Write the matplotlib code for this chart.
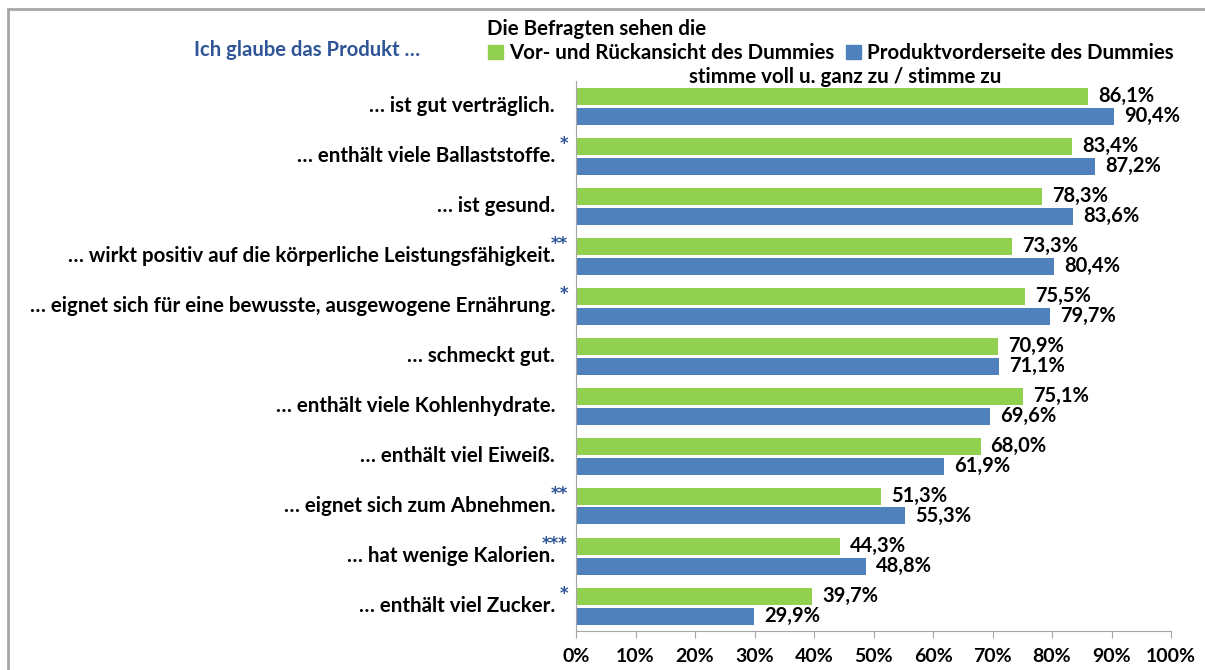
import matplotlib.pyplot as plt
from matplotlib.patches import Rectangle, Patch
from matplotlib.transforms import offset_copy

# data
categories = [
    "… ist gut verträglich.",
    "… enthält viele Ballaststoffe.",
    "… ist gesund.",
    "… wirkt positiv auf die körperliche Leistungsfähigkeit.",
    "… eignet sich für eine bewusste, ausgewogene Ernährung.",
    "… schmeckt gut.",
    "… enthält viele Kohlenhydrate.",
    "… enthält viel Eiweiß.",
    "… eignet sich zum Abnehmen.",
    "… hat wenige Kalorien.",
    "… enthält viel Zucker.",
]
stars = ["", "*", "", "**", "*", "", "", "", "**", "***", "*"]
vor_rueck = [86.1, 83.4, 78.3, 73.3, 75.5, 70.9, 75.1, 68.0, 51.3, 44.3, 39.7]
vorderseite = [90.4, 87.2, 83.6, 80.4, 79.7, 71.1, 69.6, 61.9, 55.3, 48.8, 29.9]
series_names = ["Vor- und Rückansicht des Dummies", "Produktvorderseite des Dummies"]
xticks = [0, 10, 20, 30, 40, 50, 60, 70, 80, 90, 100]

GREEN = "#92D050"
BLUE = "#4F81BD"
DARKBLUE = "#2F5597"
FONT = "Lato"
FS = 14.8

W, H = 1205, 670
fig = plt.figure(figsize=(W / 100, H / 100), dpi=100)
plt.rcParams['font.family'] = [FONT, 'DejaVu Sans']

# outer frame
fig.patches.append(Rectangle((8 / W, -0.1), 1.2, 1 - 9 / H + 0.1, transform=fig.transFigure,
                             fill=False, edgecolor="#A6A6A6", linewidth=2))

ax = fig.add_axes([576 / W, 1 - 631 / H, (1171 - 576) / W, (631 - 81) / H])

n = len(categories)
ys = list(range(n))
bh = 0.34
off = 0.2
ax.barh([y - off for y in ys], vor_rueck, height=bh, color=GREEN)
ax.barh([y + off for y in ys], vorderseite, height=bh, color=BLUE)

# value labels just right of each bar
tr_val = offset_copy(ax.transData, fig=fig, x=10, y=0, units="dots")
for y, a, b in zip(ys, vor_rueck, vorderseite):
    ax.text(a, y - off, f"{a:.1f}%".replace(".", ","), transform=tr_val, va="center",
            ha="left", fontsize=14.5, fontweight="bold")
    ax.text(b, y + off, f"{b:.1f}%".replace(".", ","), transform=tr_val, va="center",
            ha="left", fontsize=14.5, fontweight="bold")

# category labels with significance stars
tr = offset_copy(ax.get_yaxis_transform(), fig=fig, x=-21, y=0, units="dots")
tr_star = offset_copy(ax.get_yaxis_transform(), fig=fig, x=-8, y=12, units="dots")
for y, cat, s in zip(ys, categories, stars):
    ax.text(0, y, cat, transform=tr, ha="right", va="center", fontsize=FS, fontweight="bold")
    if s:
        ax.text(0, y, s, transform=tr_star, ha="right", va="center", fontsize=12,
                fontweight="bold", color=DARKBLUE, family="DejaVu Sans")

ax.set_ylim(n - 0.5, -0.5)
ax.set_xlim(0, 100)
ax.set_xticks(xticks)
ax.set_xticklabels([f"{t}%" for t in xticks], fontsize=14, fontweight="bold")
ax.tick_params(axis="x", length=5, color="#A6A6A6", pad=7)
ax.set_yticks([])
for side in ["top", "right"]:
    ax.spines[side].set_visible(False)
for side in ["left", "bottom"]:
    ax.spines[side].set_color("#A6A6A6")

# title and legend
fig.text(307 / W, 1 - 50 / H, "Ich glaube das Produkt …", ha="center", va="center",
         fontsize=14.6, fontweight="bold", color=DARKBLUE)
fig.text(487 / W, 1 - 29 / H, "Die Befragten sehen die", ha="left", va="center",
         fontsize=FS, fontweight="bold")
handles = [Patch(color=GREEN), Patch(color=BLUE)]
leg = fig.legend(handles, series_names, loc="center left", bbox_to_anchor=(478 / W, 1 - 53 / H),
                 ncol=2, frameon=False, handlelength=0.7, handleheight=0.7, handletextpad=0.3,
                 columnspacing=0.6, borderpad=0, prop={"family": FONT, "weight": "bold", "size": FS})
fig.text(845 / W, 1 - 77 / H, "stimme voll u. ganz zu / stimme zu", ha="center", va="center",
         fontsize=FS, fontweight="bold")

fig.savefig("out.png", dpi=100)
